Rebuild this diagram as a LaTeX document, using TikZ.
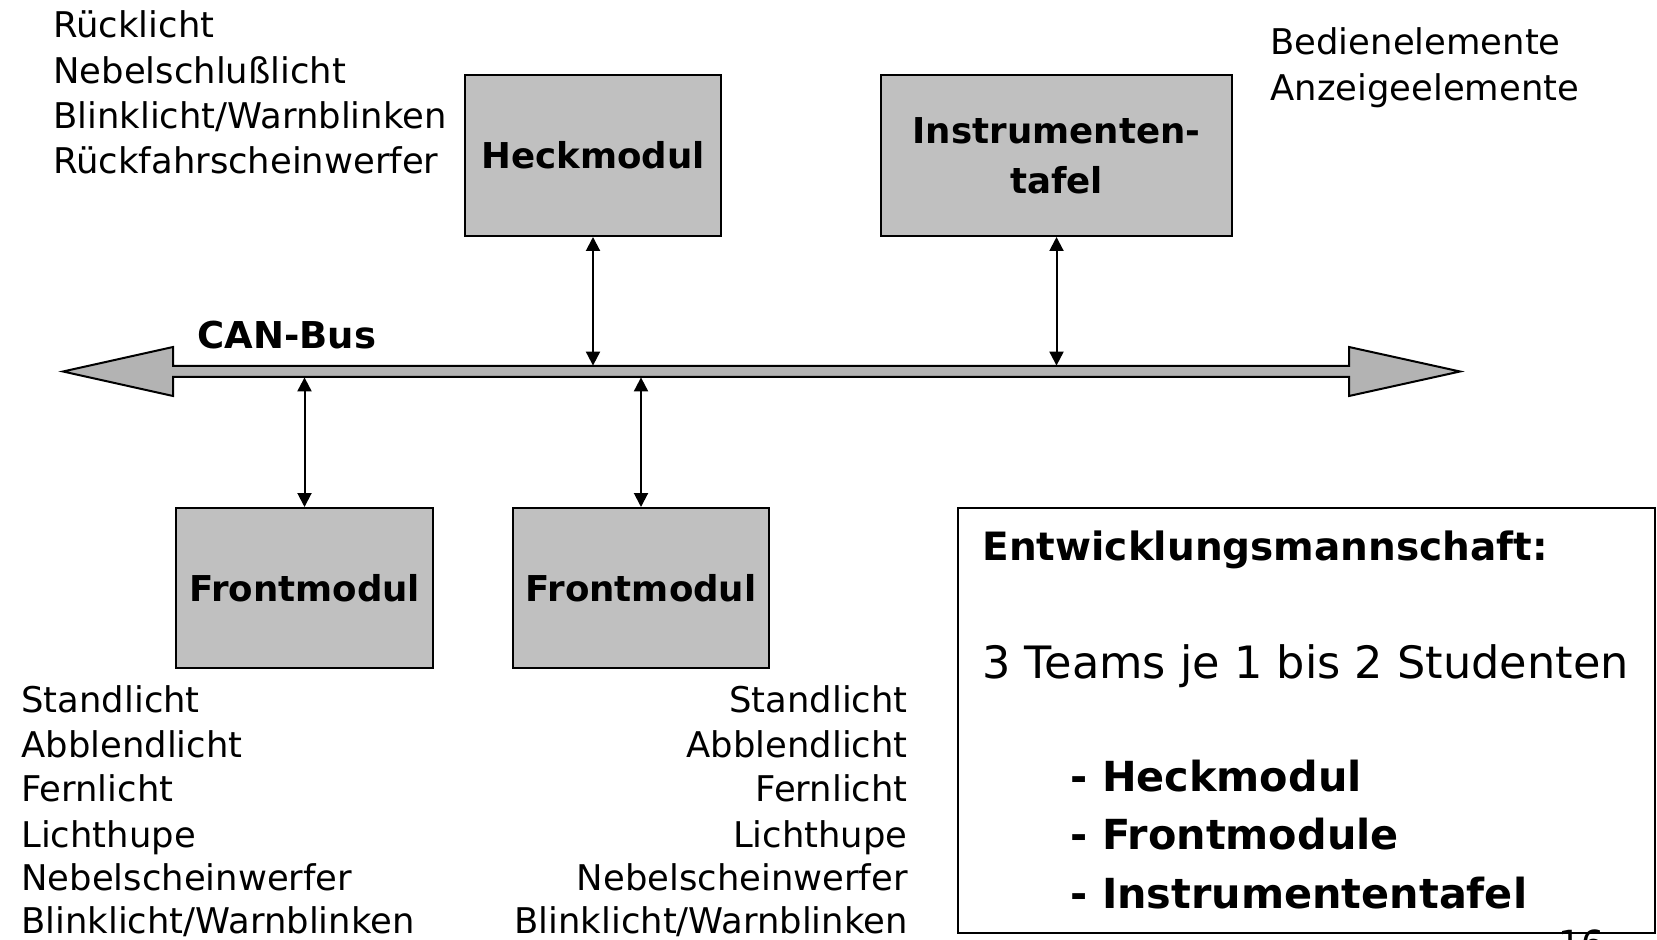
\documentclass[tikz,border=0pt]{standalone}
\usepackage{fontspec}
\setmainfont{DejaVu Sans}
\usetikzlibrary{arrows.meta}
\definecolor{boxgray}{HTML}{C0C0C0}
\definecolor{busgray}{HTML}{B3B3B3}
\begin{document}
\begin{tikzpicture}[x=0.5pt,y=-0.5pt,
  modbox/.style={draw=black, fill=boxgray, line width=1pt, rectangle, inner sep=0pt,
    font=\bfseries\fontsize{17.8}{25}\selectfont, align=center},
  listtxt/.style={inner sep=0pt, font=\fontsize{17.7}{22}\selectfont},
  boldlbl/.style={inner sep=0pt, font=\bfseries\fontsize{18.5}{22}\selectfont},
  conn/.style={line width=1pt, {Triangle[length=7pt,width=7pt]}-{Triangle[length=7pt,width=7pt]}},
  busshape/.style={fill=busgray, draw=black, line width=1pt, line join=miter},
  teambox/.style={draw=black, line width=1pt, rectangle, inner sep=0pt},
  pagenum/.style={inner sep=0pt, font=\fontsize{18}{20}\selectfont}
]
\useasboundingbox (0,0) rectangle (1657,940);

% CAN bus
\draw[busshape] (63,371.5) -- (173,347) -- (173,366) -- (1349,366) -- (1349,347)
  -- (1460,371.5) -- (1349,396) -- (1349,377) -- (173,377) -- (173,396) -- cycle;
\node[inner sep=0pt, minimum width=588pt, minimum height=5.5pt] (bus) at (761,371.5) {};
\node[boldlbl, anchor=base west] (canbus) at (197,349) {CAN-Bus};

% modules
\node[modbox, minimum width=128pt, minimum height=80.5pt] (heck) at (593,155.5) {Heckmodul};
\node[modbox, minimum width=175.5pt, minimum height=80.5pt] (instr) at (1056.5,155.5) {Instrumenten-\\tafel};
\node[modbox, minimum width=128.5pt, minimum height=80pt] (front1) at (304.5,588) {Frontmodul};
\node[modbox, minimum width=128pt, minimum height=80pt] (front2) at (641,588) {Frontmodul};

% connectors
\draw[conn] (heck.south) -- (heck.south |- bus.north);
\draw[conn] (instr.south) -- (instr.south |- bus.north);
\draw[conn] (front1.north |- bus.south) -- (front1.north);
\draw[conn] (front2.north |- bus.south) -- (front2.north);

% top-left list
\node[listtxt, anchor=base west] (tl1) at (53,38) {Rücklicht};
\node[listtxt, anchor=base west] (tl2) at (53,84) {Nebelschlußlicht};
\node[listtxt, anchor=base west] (tl3) at (53,129) {Blinklicht/Warnblinken};
\node[listtxt, anchor=base west] (tl4) at (53,174) {Rückfahrscheinwerfer};

% top-right list
\node[listtxt, anchor=base west] (tr1) at (1270,55) {Bedienelemente};
\node[listtxt, anchor=base west] (tr2) at (1270,101) {Anzeigeelemente};

% bottom-left list
\node[listtxt, anchor=base west] (bl1) at (21,712) {Standlicht};
\node[listtxt, anchor=base west] (bl2) at (21,757) {Abblendlicht};
\node[listtxt, anchor=base west] (bl3) at (21,801) {Fernlicht};
\node[listtxt, anchor=base west] (bl4) at (21,847) {Lichthupe};
\node[listtxt, anchor=base west] (bl5) at (21,890) {Nebelscheinwerfer};
\node[listtxt, anchor=base west] (bl6) at (21,933) {Blinklicht/Warnblinken};

% bottom-middle list
\node[listtxt, anchor=base east] (bm1) at (908,712) {Standlicht};
\node[listtxt, anchor=base east] (bm2) at (908,757) {Abblendlicht};
\node[listtxt, anchor=base east] (bm3) at (908,801) {Fernlicht};
\node[listtxt, anchor=base east] (bm4) at (908,847) {Lichthupe};
\node[listtxt, anchor=base east] (bm5) at (908,890) {Nebelscheinwerfer};
\node[listtxt, anchor=base east] (bm6) at (908,933) {Blinklicht/Warnblinken};

% team box
\node[teambox, minimum width=348.5pt, minimum height=212.5pt] (team) at (1306.5,720.5) {};
\node[inner sep=0pt, anchor=base west, font=\bfseries\fontsize{19.5}{22}\selectfont] (tt) at (982,560) {Entwicklungsmannschaft:};
\node[inner sep=0pt, anchor=base west, font=\fontsize{22.3}{26}\selectfont] (t3) at (982,678) {3 Teams je 1 bis 2 Studenten};
\node[inner sep=0pt, anchor=base west, font=\bfseries\fontsize{20.7}{24}\selectfont] (b1) at (1070,791) {- Heckmodul};
\node[inner sep=0pt, anchor=base west, font=\bfseries\fontsize{20.7}{24}\selectfont] (b2) at (1070,849) {- Frontmodule};
\node[inner sep=0pt, anchor=base west, font=\bfseries\fontsize{20.7}{24}\selectfont] (b3) at (1070,908) {- Instrumententafel};

% page number (cut off)
\node[pagenum, anchor=north] (page) at (1581,929) {16};
\end{tikzpicture}
\end{document}
